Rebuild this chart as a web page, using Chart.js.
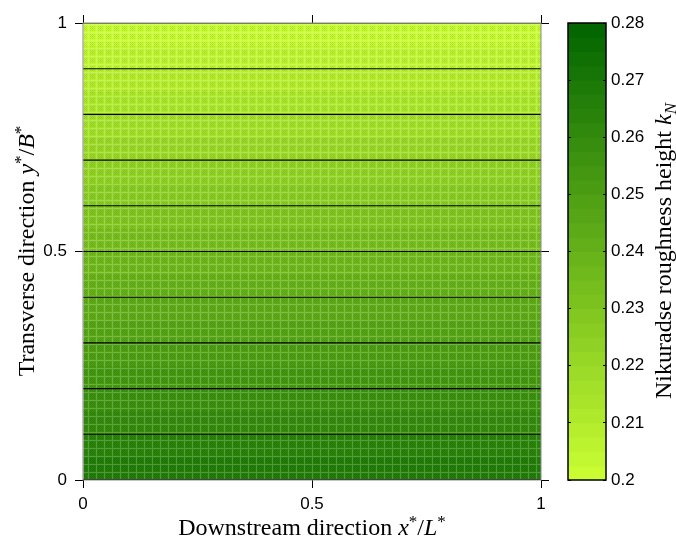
<!DOCTYPE html>
<html>
<head>
<meta charset="utf-8">
<script src="https://cdn.jsdelivr.net/npm/chart.js@4.4.1/dist/chart.umd.min.js"></script>
<style>
  body { margin: 0; background: #fff; }
  #wrap { position: relative; width: 676px; height: 541px; }
  #wrap canvas { position: absolute; left: 0; top: 0; }
</style>
</head>
<body>
<div id="wrap">
  <canvas id="main" width="676" height="541"></canvas>
  <canvas id="cbar" width="676" height="541"></canvas>
</div>
<script>
// band centres in y*/B* and the roughness value read for each band
const yCenters = [0.025, 0.075, 0.125, 0.175, 0.225, 0.275, 0.325, 0.375, 0.425, 0.475,
                  0.525, 0.575, 0.625, 0.675, 0.725, 0.775, 0.825, 0.875, 0.925, 0.975];
const kN = [0.2665, 0.2631, 0.2597, 0.2563, 0.2529, 0.2495, 0.2461, 0.2427, 0.2393, 0.2359,
            0.2325, 0.2291, 0.2257, 0.2223, 0.2189, 0.2155, 0.2121, 0.2087, 0.2053, 0.2019];
const contourLevels = [0, 0.1, 0.2, 0.3, 0.4, 0.5, 0.6, 0.7, 0.8, 0.9, 1];
const xTickValues = [0, 0.5, 1];
const yTickValues = [0, 0.5, 1];
const cbarCenters = [0.20125, 0.20375, 0.20625, 0.20875, 0.21125, 0.21375, 0.21625, 0.21875,
                     0.22125, 0.22375, 0.22625, 0.22875, 0.23125, 0.23375, 0.23625, 0.23875,
                     0.24125, 0.24375, 0.24625, 0.24875, 0.25125, 0.25375, 0.25625, 0.25875,
                     0.26125, 0.26375, 0.26625, 0.26875, 0.27125, 0.27375, 0.27625, 0.27875];
const cbarTickValues = [0.2, 0.21, 0.22, 0.23, 0.24, 0.25, 0.26, 0.27, 0.28];

const KMIN = 0.2, KMAX = 0.28;
const SERIF = '"Liberation Serif", "DejaVu Serif", serif';

Chart.defaults.font.family = '"Liberation Sans", Arial, sans-serif';
Chart.defaults.font.size = 17;
Chart.defaults.color = '#000';

function cmap(k) {
  let t = (k - KMIN) / (KMAX - KMIN);
  t = Math.max(0, Math.min(1, t));
  return [Math.round(204 * (1 - t)), Math.round(255 - 155 * t), Math.round(51 * (1 - t))];
}
function rgb(c) { return `rgb(${c[0]},${c[1]},${c[2]})`; }

// textured fill like the original's rendering
function texture(c) {
  const p = document.createElement('canvas');
  p.width = 8; p.height = 8;
  const g = p.getContext('2d');
  g.fillStyle = rgb(c);
  g.fillRect(0, 0, 8, 8);
  const light = c.map(v => Math.round(v + (255 - v) * 0.2));
  const dark = c.map(v => Math.round(v * 0.9));
  g.fillStyle = rgb(dark);
  for (let i = 2; i < 7; i++) for (let j = 2; j < 7; j++) if ((i + j) % 2 === 0) g.fillRect(i, j, 1, 1);
  g.fillStyle = rgb(light);
  g.fillRect(0, 0, 8, 1);
  g.fillRect(0, 0, 1, 8);
  return g.createPattern(p, 'repeat');
}

function useTicks(values) {
  return axis => { axis.ticks = values.map(v => ({ value: v })); };
}
const fmt = v => String(+Number(v).toFixed(2));

// text with italic / superscript / subscript parts
function richText(ctx, parts, cx, cy, angle, size) {
  const fontOf = p => `${p.it ? 'italic ' : ''}${p.sup || p.sub ? Math.round(size * 0.7) : size}px ${SERIF}`;
  let w = 0;
  parts.forEach(p => { ctx.font = fontOf(p); p.w = ctx.measureText(p.t).width; w += p.w; });
  ctx.save();
  ctx.translate(cx, cy);
  ctx.rotate(angle);
  ctx.fillStyle = '#000';
  ctx.textBaseline = 'alphabetic';
  let x = -w / 2;
  parts.forEach(p => {
    ctx.font = fontOf(p);
    let dy = size * 0.34;
    if (p.sup) dy -= size * 0.32;
    if (p.sub) dy += size * 0.2;
    ctx.fillText(p.t, x, dy);
    x += p.w;
  });
  ctx.restore();
}

const boxPlugin = {
  id: 'box',
  afterDraw(chart, args, opts) {
    const a = chart.chartArea, ctx = chart.ctx;
    ctx.save();
    ctx.strokeStyle = opts.color;
    ctx.lineWidth = opts.width;
    ctx.strokeRect(a.left, a.top, a.right - a.left, a.bottom - a.top);
    ctx.restore();
  }
};

const titlePlugin = {
  id: 'titles',
  afterDraw(chart, args, opts) {
    (opts.items || []).forEach(it => richText(chart.ctx, it.parts, it.x, it.y, it.angle, it.size));
  }
};

const outerTicks = {
  display: true, offset: false, drawOnChartArea: false, drawTicks: true, tickLength: 8, color: '#000', lineWidth: 1
};

new Chart(document.getElementById('main'), {
  type: 'bar',
  data: {
    datasets: [
      {
        type: 'bar',
        indexAxis: 'y',
        xAxisID: 'x',
        yAxisID: 'y',
        data: yCenters.map((y, i) => ({ y: y, x: [0, 1] })),
        backgroundColor: kN.map(k => texture(cmap(k))),
        borderWidth: 0,
        barPercentage: 1.04,
        categoryPercentage: 1,
        order: 2
      },
      ...contourLevels.map(l => ({
        type: 'line',
        xAxisID: 'x',
        yAxisID: 'y',
        data: [{ x: 0, y: l }, { x: 1, y: l }],
        borderColor: '#000',
        borderWidth: (l === 0) ? 2 : 1.1,
        pointRadius: 0,
        fill: false,
        order: 1
      }))
    ]
  },
  options: {
    responsive: false,
    animation: false,
    devicePixelRatio: 1,
    layout: { padding: 0 },
    plugins: {
      legend: { display: false },
      tooltip: { enabled: false },
      box: { color: '#8a8a8a', width: 1 },
      titles: {
        items: [
          { parts: [{ t: 'Downstream direction ' }, { t: 'x', it: true }, { t: '*', sup: true },
                    { t: '/' }, { t: 'L', it: true }, { t: '*', sup: true }],
            x: 312, y: 527, angle: 0, size: 24 },
          { parts: [{ t: 'Transverse direction ' }, { t: 'y', it: true }, { t: '*', sup: true },
                    { t: '/' }, { t: 'B', it: true }, { t: '*', sup: true }],
            x: 26, y: 251, angle: -Math.PI / 2, size: 24 }
        ]
      }
    },
    scales: {
      x: {
        type: 'linear', position: 'bottom', min: 0, max: 1, offset: false,
        afterBuildTicks: useTicks(xTickValues),
        afterFit: s => { s.height = 61; },
        ticks: { padding: 6, maxRotation: 0, callback: fmt },
        grid: outerTicks,
        border: { display: false }
      },
      xTop: {
        type: 'linear', position: 'top', min: 0, max: 1, offset: false,
        afterBuildTicks: useTicks(xTickValues),
        afterFit: s => { s.height = 23; },
        ticks: { display: false },
        grid: outerTicks,
        border: { display: false }
      },
      y: {
        type: 'linear', position: 'left', min: 0, max: 1, offset: false,
        afterBuildTicks: useTicks(yTickValues),
        afterFit: s => { s.width = 83; },
        ticks: { padding: 8, callback: fmt },
        grid: outerTicks,
        border: { display: false }
      },
      yRight: {
        type: 'linear', position: 'right', min: 0, max: 1, offset: false,
        afterBuildTicks: useTicks(yTickValues),
        afterFit: s => { s.width = 135; },
        ticks: { display: false },
        grid: outerTicks,
        border: { display: false }
      }
    }
  },
  plugins: [boxPlugin, titlePlugin]
});

new Chart(document.getElementById('cbar'), {
  type: 'bar',
  data: {
    datasets: [{
      indexAxis: 'y',
      xAxisID: 'cx',
      yAxisID: 'cy',
      data: cbarCenters.map(c => ({ y: c, x: [0, 1] })),
      backgroundColor: cbarCenters.map(c => rgb(cmap(c))),
      borderWidth: 0,
      barPercentage: 1.06,
      categoryPercentage: 1
    }]
  },
  options: {
    responsive: false,
    animation: false,
    devicePixelRatio: 1,
    layout: { padding: { left: 568, top: 23, bottom: 61, right: 0 } },
    plugins: {
      legend: { display: false },
      tooltip: { enabled: false },
      box: { color: '#000', width: 1.5 },
      titles: {
        items: [
          { parts: [{ t: 'Nikuradse roughness height ' }, { t: 'k', it: true }, { t: 'N', it: true, sub: true }],
            x: 663, y: 251, angle: -Math.PI / 2, size: 24 }
        ]
      }
    },
    scales: {
      cx: { type: 'linear', min: 0, max: 1, display: false, offset: false, grid: { offset: false } },
      cy: {
        type: 'linear', position: 'right', min: KMIN, max: KMAX, offset: false,
        afterBuildTicks: useTicks(cbarTickValues),
        afterFit: s => { s.width = 70; },
        ticks: { padding: 5, callback: fmt },
        grid: { z: 1, offset: false, drawOnChartArea: true, drawTicks: false, color: '#000', lineWidth: 1 },
        border: { display: false, dash: [3, 32, 3, 100] }
      }
    }
  },
  plugins: [boxPlugin, titlePlugin]
});
</script>
</body>
</html>
